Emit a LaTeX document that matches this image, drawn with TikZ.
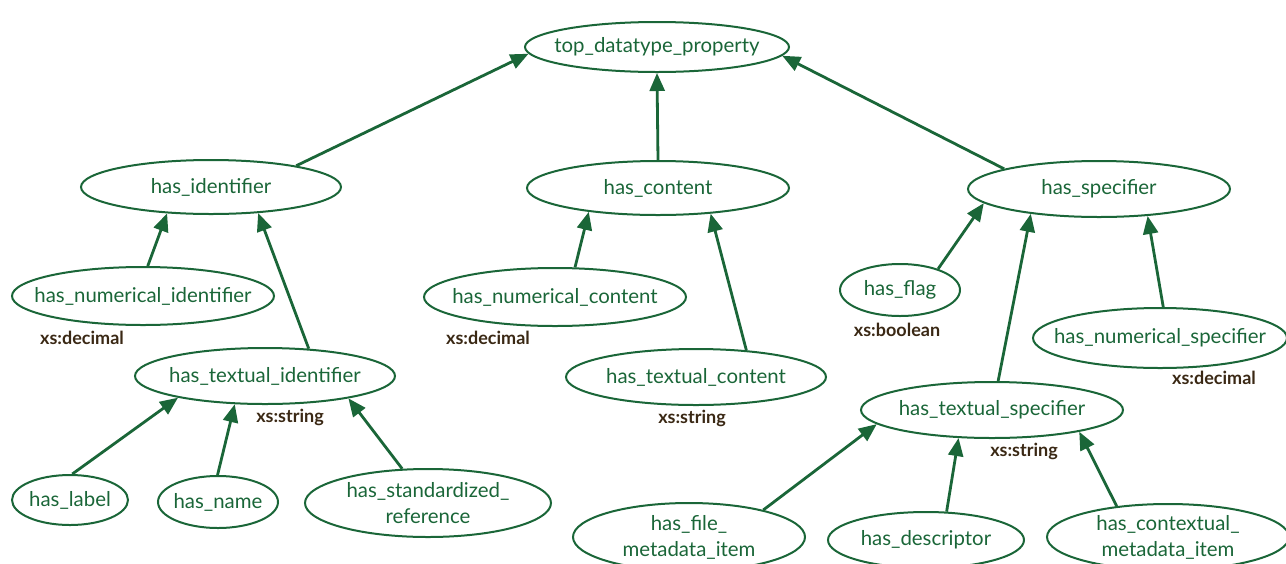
\documentclass[tikz,border=0pt]{standalone}
\usepackage{fontspec}
\setmainfont{Lato}
\usetikzlibrary{shapes.geometric,arrows.meta}
\definecolor{gr}{RGB}{26,102,56}
\definecolor{lbl}{RGB}{58,40,20}
\tikzset{
  prop/.style={ellipse, draw=gr, line width=1pt, inner sep=0pt, text=gr, font=\fontsize{10.2}{11.5}\selectfont},
  sz/.style 2 args={minimum width=#1*0.5pt, minimum height=#2*0.5pt},
  isa/.style={draw=gr, line width=1.4pt, -{Triangle[length=9pt,width=7.5pt]}},
  dtype/.style={text=lbl, font=\bfseries\fontsize{9}{10}\selectfont, inner sep=0pt}
}
\newcommand{\zt}[1]{\makebox[0pt]{#1}}
\newcommand{\zz}[2]{\makebox[0pt]{\shortstack{#1\\[1pt]#2}}}
\begin{document}
\begin{tikzpicture}[x=0.5pt,y=-0.5pt]
\useasboundingbox (0,0) rectangle (1286,563);
% nodes
\node[prop, sz={264}{50}] (top) at (657,47) {\zt{top\_datatype\_property}};
\node[prop, sz={260}{54}] (hi) at (211,187) {\zt{has\_identifier}};
\node[prop, sz={262}{54}] (hc) at (658,188) {\zt{has\_content}};
\node[prop, sz={262}{56}] (hs) at (1099,189) {\zt{has\_specifier}};
\node[prop, sz={262}{58}] (hni) at (143,296) {\zt{has\_numerical\_identifier}};
\node[prop, sz={260}{56}] (hti) at (265,376) {\zt{has\_textual\_identifier}};
\node[prop, sz={116}{50}] (hl) at (70,500) {\zt{has\_label}};
\node[prop, sz={120}{52}] (hn) at (218,502) {\zt{has\_name}};
\node[prop, sz={246}{68}] (hsr) at (428,503) {\zz{has\_standardized\_}{reference}};
\node[prop, sz={262}{58}] (hnc) at (555,297) {\zt{has\_numerical\_content}};
\node[prop, sz={260}{56}] (htc) at (696,377) {\zt{has\_textual\_content}};
\node[prop, sz={120}{52}] (hf) at (900,290) {\zt{has\_flag}};
\node[prop, sz={254}{60}] (hns) at (1160,338) {\zt{has\_numerical\_specifier}};
\node[prop, sz={262}{56}] (hts) at (992,410) {\zt{has\_textual\_specifier}};
\node[prop, sz={232}{68}] (hfm) at (689,537) {\zz{has\_file\_}{metadata\_item}};
\node[prop, sz={196}{56}] (hd) at (926,540) {\zt{has\_descriptor}};
\node[prop, sz={242}{66}] (hcm) at (1168,537) {\zz{has\_contextual\_}{metadata\_item}};
% datatype labels
\node[dtype] (dhni) at (82,338) {xs:decimal};
\node[dtype] (dhti) at (290,417) {xs:string};
\node[dtype] (dhnc) at (488,338) {xs:decimal};
\node[dtype] (dhtc) at (692,418) {xs:string};
\node[dtype] (dhf) at (897,330) {xs:boolean};
\node[dtype] (dhns) at (1214,378) {xs:decimal};
\node[dtype] (dhts) at (1024,451) {xs:string};
% edges
\draw[isa] (hi.14) -- (top.183);
\draw[isa] (hc.north) -- (top.south);
\draw[isa] (hs.168) -- (top.-4);
\draw[isa] (hni.81) -- (hi.211);
\draw[isa] (hti.32) -- (hi.331);
\draw[isa] (hl.85) -- (hti.194);
\draw[isa] (hn.91) -- (hti.223);
\draw[isa] (hsr.127) -- (hti.345);
\draw[isa] (hnc.56) -- (hc.199);
\draw[isa] (htc.28) -- (hc.334);
\draw[isa] (hf.29) -- (hs.187);
\draw[isa] (hts.78) -- (hs.200);
\draw[isa] (hns.84) -- (hs.331);
\draw[isa] (hfm.20) -- (hts.187);
\draw[isa] (hd.54) -- (hts.220);
\draw[isa] (hcm.149) -- (hts.346);
\end{tikzpicture}
\end{document}
